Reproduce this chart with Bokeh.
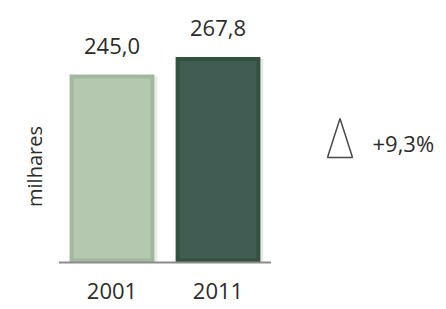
import numpy as np
from bokeh.plotting import figure
from bokeh.models import Range1d, ColumnDataSource
from bokeh.core.properties import value
from bokeh.embed import file_html
from bokeh.resources import INLINE

# ---- data ----
years = ["2001", "2011"]
totals = [245.0, 267.8]
value_labels = ["245,0", "267,8"]
axis_title = "milhares"
fill_colors = ["#b4c8b0", "#3f5d53"]
edge_colors = ["#a3b79f", "#34503f"]

change = (totals[1] / totals[0] - 1) * 100
change_label = ("+%.1f%%" % change).replace(".", ",")

# ---- layout (pixels -> data scales) ----
W, H = 446, 309
PX_X = 106.0            # pixels per category
PX_Y = 188.0 / 245.0    # pixels per unit
X0 = -111.5 / PX_X
X1 = X0 + W / PX_X
Y0 = -(H - 262.0) / PX_Y
Y1 = Y0 + H / PX_Y

def dx(px):
    return px / PX_X

def dy(px):
    return px / PX_Y

FONT = value("Open Sans")
TEXT_COLOR = "#2b2b2b"

p = figure(width=W, height=H, x_range=Range1d(X0, X1), y_range=Range1d(Y0, Y1),
           output_backend="svg", toolbar_location=None,
           x_axis_type=None, y_axis_type=None,
           min_border=0, outline_line_color=None)
p.grid.visible = False
p.background_fill_color = "white"
p.border_fill_color = "white"

idx = np.arange(len(years))
tot = np.array(totals)

src = ColumnDataSource(dict(x=idx, top=tot, fill=fill_colors, edge=edge_colors,
                            lab=value_labels, year=years,
                            itop=tot - dy(4), ibot=np.zeros(len(tot)) + dy(4)))

# soft shadow on the right
p.vbar(x=idx + dx(3), top=tot - dy(2), bottom=0, width=0.8, fill_color="#dcdcdc",
       fill_alpha=0.6, line_color=None)
# outer bevel
p.vbar(x="x", top="top", bottom=0, width=0.8, fill_color="edge", line_color=None, source=src)
# inner face
p.vbar(x="x", top="itop", bottom="ibot", width=0.8 - dx(8), fill_color="fill",
       line_color=None, source=src)

# baseline
p.segment(x0=[-0.5], x1=[len(years) - 0.5], y0=[0], y1=[0], line_color="#8c8c8c", line_width=2)

# value labels
p.text(x="x", y="top", text="lab", source=src, y_offset=-29, text_align="center",
       text_baseline="alphabetic", text_font=FONT, text_font_size="22px", text_color=TEXT_COLOR)

# category labels
p.text(x="x", y=0, text="year", source=src, y_offset=28, text_align="center",
       text_baseline="middle", text_font=FONT, text_font_size="22px", text_color=TEXT_COLOR)

# axis title
p.text(x=[X0 + dx(34)], y=[Y1 - dy(166)], text=[axis_title], angle=np.pi / 2,
       text_align="center", text_baseline="alphabetic", text_font=FONT,
       text_font_size="20px", text_color=TEXT_COLOR)

# delta symbol
cx, cy = X0 + dx(339.5), Y1 - dy(137.5)
hw, hh = dx(12.5), dy(19.5)
p.patch(x=[cx - hw, cx, cx + hw], y=[cy - hh, cy + hh, cy - hh], fill_color=None,
        line_color="#4a4a4a", line_width=1.5)

# change label
p.text(x=[X0 + dx(372)], y=[Y1 - dy(142)], text=[change_label], text_align="left",
       text_baseline="alphabetic", text_font=FONT, text_font_size="22px", text_color=TEXT_COLOR)

open("out.html", "w").write(file_html(p, INLINE))
